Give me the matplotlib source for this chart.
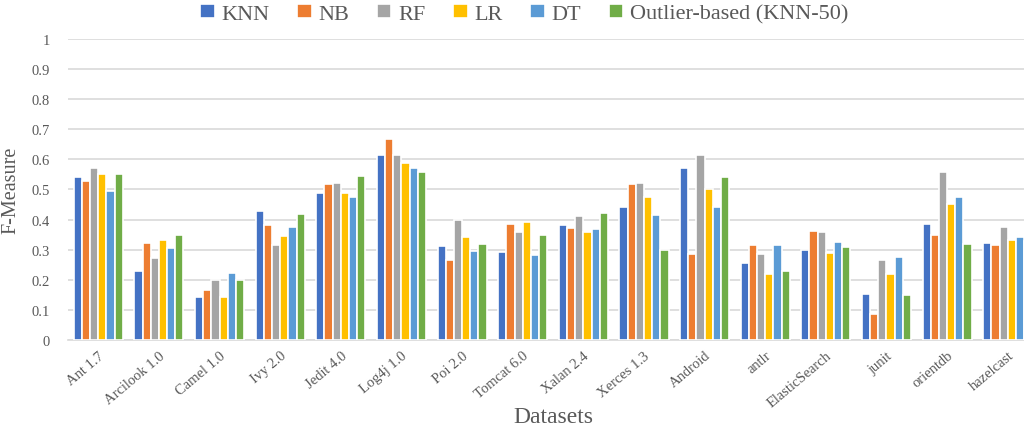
import matplotlib
matplotlib.use("Agg")
import matplotlib.pyplot as plt
import numpy as np

datasets = ["Ant 1.7", "Arcilook 1.0", "Camel 1.0", "Ivy 2.0", "Jedit 4.0",
            "Log4j 1.0", "Poi 2.0", "Tomcat 6.0", "Xalan 2.4", "Xerces 1.3",
            "Android", "antlr", "ElasticSearch", "junit", "orientdb", "hazelcast"]

knn = [0.542, 0.230, 0.142, 0.429, 0.487, 0.614, 0.313, 0.293, 0.382, 0.443,
       0.570, 0.257, 0.298, 0.152, 0.384, 0.321]
nb = [0.528, 0.321, 0.166, 0.381, 0.518, 0.667, 0.266, 0.385, 0.371, 0.517,
      0.286, 0.316, 0.363, 0.088, 0.348, 0.315]
rf = [0.571, 0.273, 0.200, 0.315, 0.521, 0.614, 0.399, 0.359, 0.413, 0.521,
      0.614, 0.286, 0.358, 0.266, 0.559, 0.377]
lr = [0.552, 0.332, 0.142, 0.345, 0.487, 0.589, 0.342, 0.392, 0.359, 0.475,
      0.500, 0.221, 0.289, 0.221, 0.451, 0.332]
dt = [0.495, 0.307, 0.222, 0.375, 0.474, 0.571, 0.296, 0.282, 0.369, 0.416,
      0.443, 0.316, 0.325, 0.275, 0.476, 0.342]
outlier = [0.550, 0.350, 0.200, 0.419, 0.545, 0.558, 0.319, 0.350, 0.423, 0.299,
           0.540, 0.229, 0.309, 0.149, 0.319, 0.329]

series_names = ["KNN", "NB", "RF", "LR", "DT", "Outlier-based (KNN-50)"]
series_values = [knn, nb, rf, lr, dt, outlier]
colors = ["#4472C4", "#ED7D31", "#A5A5A5", "#FFC000", "#5B9BD5", "#70AD47"]

y_ticks = [0, 0.1, 0.2, 0.3, 0.4, 0.5, 0.6, 0.7, 0.8, 0.9, 1.0]
y_tick_labels = ["0", "0.1", "0.2", "0.3", "0.4", "0.5", "0.6", "0.7", "0.8", "0.9", "1"]

plt.rcParams["font.family"] = ["Liberation Serif", "DejaVu Serif"]
text_gray = "#595959"
grid_gray = "#d9d9d9"

fig = plt.figure(figsize=(10.24, 4.31), dpi=100)
ax = fig.add_axes([0.0664, 0.2081, 0.9473, 0.700])

x = np.arange(len(datasets))
width = 0.135
n = len(series_values)
for i, (name, vals, c) in enumerate(zip(series_names, series_values, colors)):
    offset = (i - (n - 1) / 2) * width
    ax.bar(x + offset, vals, width, color=c, edgecolor="white",
           linewidth=1.2, label=name, zorder=3)

ax.set_xlim(-0.5, len(datasets) - 0.5)
ax.set_ylim(0, 1.0)
ax.set_yticks(y_ticks)
ax.set_yticklabels(y_tick_labels, fontsize=10.5, color=text_gray)
ax.set_xticks(x)
ax.set_xticklabels(datasets, rotation=40, ha="right", rotation_mode="anchor",
                   fontsize=10.5, color=text_gray)
ax.tick_params(axis="both", length=0)
ax.tick_params(axis="y", pad=13)
ax.tick_params(axis="x", pad=6)

ax.grid(axis="y", color=grid_gray, linewidth=1.2, zorder=0)
for s in ["top", "right", "left"]:
    ax.spines[s].set_visible(False)
ax.spines["bottom"].set_color(grid_gray)
ax.spines["bottom"].set_linewidth(1.2)

ax.set_ylabel("F-Measure", fontsize=14.5, color=text_gray, labelpad=8)
fig.text(0.540, 0.008, "Datasets", fontsize=17, color=text_gray,
         ha="center", va="bottom")

handles, labels = ax.get_legend_handles_labels()
fig.legend(handles, labels, loc="center", bbox_to_anchor=(0.512, 0.965),
           ncol=6, frameon=False, fontsize=16, handlelength=0.65,
           handleheight=0.55, handletextpad=0.3, columnspacing=1.25,
           labelcolor=text_gray)

fig.savefig("out.png", dpi=100)
